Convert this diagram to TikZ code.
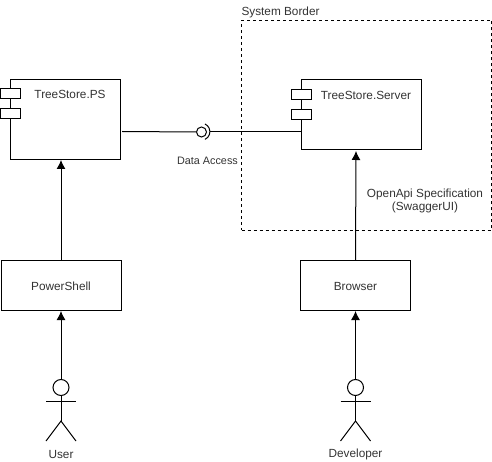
\documentclass[tikz,border=0pt]{standalone}
\usepackage{fontspec}
\setmainfont{Liberation Sans}
\usetikzlibrary{arrows.meta}
\begin{document}
\begin{tikzpicture}[x=1pt,y=-1pt,line width=1pt,
  boxy/.style={draw=black,fill=white,rectangle,inner sep=0pt,minimum width=#1},
  port/.style={draw=black,fill=white,rectangle,inner sep=0pt,minimum width=20pt,minimum height=10pt},
  label/.style={font=\fontsize{11.8}{13.5}\selectfont,text=black!80,inner sep=0pt,align=center},
  head/.style={draw=black,fill=white,circle,inner sep=0pt,minimum size=16pt},
  conn/.style={draw=black,-{Latex[length=9pt,width=9pt]}},
  wire/.style={draw=black}]
\useasboundingbox (0,0) rectangle (492,462);
\node[draw=black,dashed,rectangle,inner sep=0pt,minimum width=250pt,minimum height=210pt] (border) at (366.5,125.5) {};
\node[label,anchor=west] (borderlabel) at (241,12) {System Border};
% components
\node[boxy=110pt,minimum height=80pt] (ps) at (65.5,119.5) {};
\node[port] (psa) at (10.5,94) {};
\node[port] (psb) at (10.5,114) {};
\node[label] (pslabel) at (70,94) {TreeStore.PS};
\node[boxy=120pt,minimum height=70pt] (srv) at (361.5,115) {};
\node[port] (srva) at (301.5,95) {};
\node[port] (srvb) at (301.5,115) {};
\node[label] (srvlabel) at (366,95) {TreeStore.Server};
% boxes
\node[boxy=120pt,minimum height=50pt] (pwsh) at (61,285.5) {};
\node[label] at (61,286) {PowerShell};
\node[boxy=110pt,minimum height=50pt] (browser) at (355.5,285.5) {};
\node[label] at (355.5,286) {Browser};
% interface
\node[draw=black,circle,inner sep=0pt,minimum size=10pt] (lolli) at (201.5,132) {};
\draw[wire] (205,139.4) arc[start angle=-65,end angle=65,radius=8.5pt];
\coordinate (psedge) at (122,131.5);
\coordinate (lolliR) at (210,131.5);
\coordinate (srvedge) at (301.5,131.5);
\draw[wire] (psedge) -- (lolli.west);
\draw[wire] (lolliR) -- (srvedge);
\node[label,font=\fontsize{10.8}{13}\selectfont] (da) at (207.5,161) {Data Access};
\node[label] (oas) at (425,201) {OpenApi Specification\\(SwaggerUI)};
% arrows between boxes
\coordinate (pstop) at (61,160);
\coordinate (srvbottom) at (356,151);
\draw[conn] (pwsh.north) -- (pstop);
\draw[conn] (browser.north) -- (srvbottom);
% actors
\node[head] (user) at (61,387.5) {};
\node[head] (dev) at (355.5,387.5) {};
\coordinate (pwshb) at (61,311);
\coordinate (browserb) at (355.5,311);
\draw[conn] (user.north) -- (pwshb);
\draw[conn] (dev.north) -- (browserb);
\foreach \a in {user,dev}{
  \draw[wire] (\a.south) -- ++(0,25) coordinate (\a hip);
  \draw[wire] ([xshift=-15pt,yshift=-5pt]\a.south) -- ++(30,0);
  \draw[wire] ([xshift=-15pt,yshift=-20pt]\a hip) -- (\a hip) -- ([xshift=15pt,yshift=-20pt]\a hip);
}
\node[label] (userlabel) at (61,454) {User};
\node[label] (devlabel) at (355.5,454) {Developer};
\end{tikzpicture}
\end{document}
